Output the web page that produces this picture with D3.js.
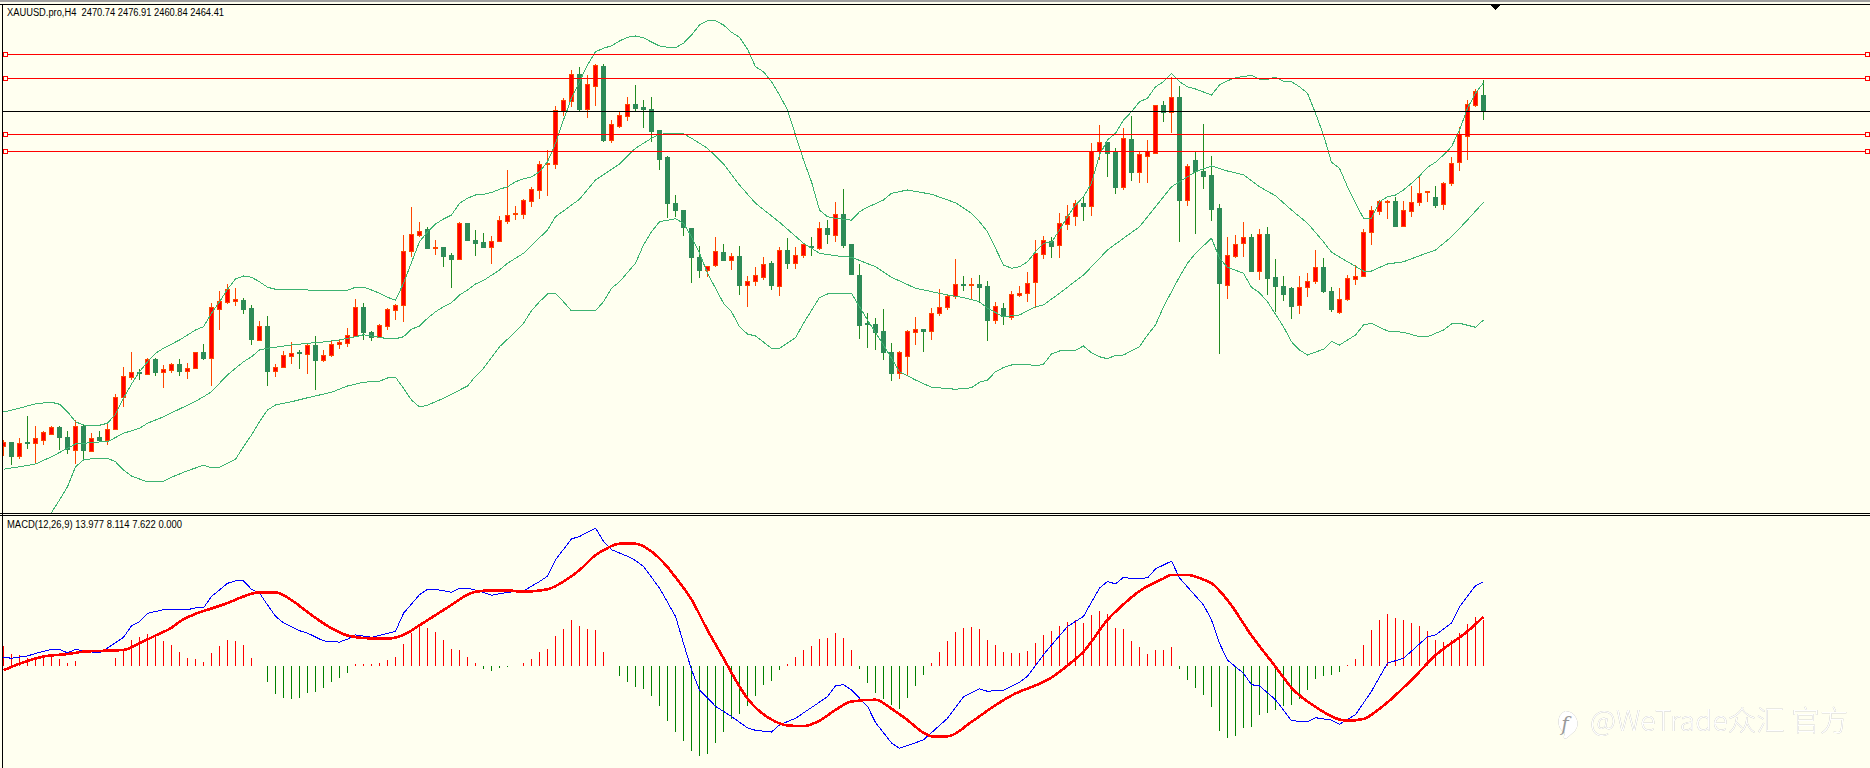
<!DOCTYPE html>
<html>
<head>
<meta charset="utf-8">
<title>XAUUSD.pro,H4</title>
<script src="https://cdn.jsdelivr.net/npm/d3@7/dist/d3.min.js"></script>
<style>
  html, body { margin: 0; padding: 0; background: #FFFFF0; overflow: hidden; }
  svg { display: block; }
  .label { font-family: "Liberation Sans", sans-serif; font-size: 10px; fill: #000; }
  .mark { font-family: "Noto Sans CJK SC", sans-serif; font-size: 28.5px; font-weight: 300; fill: #fff;
          filter: drop-shadow(0.8px 0.8px 0 #9a9a9a); }
</style>
</head>
<body>
<svg id="chart" width="1870" height="768"></svg>
<script>
// H4 candles, oldest first
const candleOpen = [
2330.3,2332.1,2326.3,2331.8,2331.5,2333.1,2335.5,2338.1,2334.1,2329.1,
2338.6,2328.7,2334.1,2333.0,2337.4,2350.1,2357.9,2360.1,2359.4,2365.3,
2360.3,2361.1,2363.3,2360.3,2361.5,2368.1,2365.5,2385.5,2388.3,2388.5,
2389.0,2385.7,2373.1,2378.5,2360.3,2362.2,2366.7,2367.8,2367.5,2370.9,
2365.1,2367.1,2371.0,2371.7,2374.7,2386.1,2376.2,2374.2,2378.7,2385.1,
2386.9,2408.3,2415.0,2417.3,2409.8,2410.1,2406.9,2405.2,2419.7,2413.0,
2412.1,2410.1,2412.3,2420.3,2423.1,2423.5,2428.7,2433.1,2443.1,2443.5,
2464.6,2468.3,2479.3,2465.5,2474.7,2482.5,2453.1,2458.7,2462.7,2467.3,
2466.1,2465.3,2456.9,2446.1,2427.7,2424.9,2417.7,2406.1,2401.1,2403.1,
2408.1,2405.1,2406.5,2395.1,2396.3,2398.3,2403.4,2394.7,2408.9,2403.9,
2407.1,2410.5,2409.8,2417.7,2415.1,2423.3,2411.3,2398.9,2379.4,2379.3,
2376.5,2368.1,2359.5,2366.7,2376.3,2377.3,2376.7,2383.5,2385.9,2390.5,
2395.3,2395.0,2395.3,2394.5,2381.1,2385.7,2382.1,2391.0,2391.5,2395.9,
2407.5,2412.5,2410.7,2419.4,2422.3,2427.7,2426.7,2448.5,2452.1,2447.8,
2433.9,2453.3,2440.3,2446.3,2447.8,2466.9,2463.9,2470.1,2429.1,2444.9,
2440.5,2438.9,2425.7,2395.1,2406.7,2411.5,2414.1,2400.7,2415.3,2398.1,
2394.5,2393.7,2386.9,2393.9,2396.7,2402.1,2392.5,2384.3,2389.1,2397.5,
2398.3,2416.1,2424.7,2428.1,2428.5,2418.7,2424.7,2427.9,2432.0,2430.1,
2427.1,2435.5,2443.7,2454.7,2467.1,2470.74];

const candleHigh = [
2333.0,2332.1,2333.8,2342.6,2338.6,2336.5,2338.6,2338.6,2336.5,2340.9,
2339.3,2335.8,2336.5,2339.7,2351.3,2362.2,2368.2,2361.3,2365.7,2365.7,
2362.9,2363.8,2365.4,2363.8,2368.2,2371.4,2387.8,2392.5,2395.4,2393.8,
2389.8,2386.9,2380.6,2382.6,2363.4,2368.6,2372.2,2369.0,2371.4,2374.6,
2369.0,2373.0,2373.4,2377.8,2389.4,2387.8,2376.6,2379.4,2385.8,2387.4,
2415.0,2426.2,2420.2,2418.1,2413.0,2410.1,2407.7,2420.1,2419.7,2417.0,
2415.8,2414.6,2422.6,2441.0,2426.6,2429.5,2434.2,2444.6,2449.0,2466.6,
2469.8,2481.0,2482.2,2479.0,2483.4,2483.4,2461.0,2464.6,2470.2,2475.0,
2469.0,2470.2,2457.0,2446.5,2431.0,2425.0,2417.9,2410.6,2402.6,2414.2,
2411.4,2407.7,2410.6,2398.6,2402.2,2406.2,2404.6,2410.2,2413.8,2410.2,
2411.8,2414.2,2420.2,2421.0,2428.2,2433.4,2411.4,2403.4,2383.8,2381.8,
2385.4,2371.8,2368.6,2377.0,2382.2,2377.3,2385.8,2393.4,2391.3,2405.4,
2398.6,2397.8,2399.0,2396.6,2388.2,2387.8,2392.6,2394.6,2400.2,2413.0,
2414.6,2414.2,2423.8,2427.0,2429.0,2430.6,2451.8,2459.0,2452.1,2449.8,
2457.8,2462.6,2448.2,2453.0,2467.0,2468.6,2478.1,2474.6,2443.4,2448.2,
2459.4,2446.6,2427.4,2414.2,2415.0,2420.2,2415.4,2417.4,2418.2,2405.4,
2398.6,2394.2,2398.6,2399.8,2409.0,2405.8,2394.2,2393.8,2399.0,2403.0,
2417.4,2426.6,2429.0,2428.9,2430.2,2428.6,2434.6,2438.2,2432.6,2434.6,
2436.2,2446.2,2458.2,2469.0,2473.4,2476.91];

const candleLow = [
2326.6,2323.0,2325.5,2329.5,2323.4,2331.0,2335.1,2329.0,2327.4,2323.4,
2325.4,2328.6,2332.5,2331.0,2337.0,2346.2,2357.0,2357.0,2359.0,2358.6,
2353.8,2359.8,2358.6,2357.4,2361.4,2365.0,2354.6,2377.0,2387.4,2386.6,
2383.4,2371.0,2372.6,2354.6,2358.2,2361.8,2363.4,2361.4,2359.3,2353.0,
2364.2,2366.2,2369.4,2370.2,2374.2,2373.0,2372.6,2373.9,2377.0,2381.0,
2380.2,2406.3,2414.3,2409.3,2407.0,2402.3,2393.9,2405.0,2412.6,2406.6,
2409.7,2403.4,2412.3,2419.5,2421.0,2421.5,2426.3,2429.5,2430.7,2441.4,
2462.6,2466.3,2464.1,2461.9,2466.6,2452.3,2451.9,2457.9,2460.7,2464.5,
2457.8,2452.3,2441.0,2421.8,2422.2,2414.7,2395.9,2397.8,2398.3,2402.2,
2404.6,2401.0,2391.0,2386.3,2394.6,2397.0,2393.0,2390.6,2401.4,2401.4,
2405.8,2406.6,2409.0,2411.4,2412.2,2409.8,2399.0,2373.4,2369.8,2369.0,
2365.0,2356.6,2357.4,2359.0,2371.0,2368.2,2373.0,2382.6,2385.0,2389.4,
2392.6,2389.4,2387.7,2372.7,2379.4,2379.0,2381.0,2390.2,2388.2,2385.8,
2405.4,2405.8,2405.8,2417.0,2418.6,2420.6,2422.6,2445.0,2438.2,2431.4,
2433.0,2436.6,2435.8,2435.8,2447.4,2460.2,2455.8,2412.2,2426.6,2415.4,
2433.4,2420.6,2367.4,2389.4,2405.8,2406.2,2400.2,2397.0,2391.0,2384.2,
2388.6,2381.4,2383.4,2390.2,2395.4,2391.8,2384.2,2383.4,2388.6,2395.0,
2398.2,2411.0,2423.0,2421.4,2418.6,2418.2,2422.2,2426.6,2428.2,2425.8,
2425.0,2434.6,2440.6,2445.0,2466.2,2460.84];

const candleClose = [
2332.1,2326.3,2331.7,2331.5,2333.7,2336.1,2338.2,2333.9,2329.3,2338.5,
2329.1,2333.7,2333.0,2337.3,2350.1,2358.5,2360.1,2359.7,2365.3,2360.3,
2361.3,2363.3,2360.6,2361.7,2368.1,2365.5,2386.1,2388.5,2393.3,2389.3,
2385.5,2373.1,2378.5,2360.7,2362.1,2366.9,2367.7,2367.5,2370.9,2365.1,
2366.9,2371.3,2371.8,2374.9,2386.1,2375.9,2374.1,2378.9,2385.3,2386.9,
2408.6,2415.3,2416.5,2409.9,2410.0,2406.7,2405.2,2419.7,2413.0,2411.9,
2409.9,2412.5,2420.9,2422.9,2423.7,2428.9,2433.3,2443.3,2443.7,2464.9,
2468.9,2479.3,2465.5,2475.3,2482.9,2453.1,2459.3,2462.9,2467.3,2465.8,
2465.1,2456.7,2445.5,2427.5,2424.7,2417.9,2405.9,2401.1,2402.5,2408.5,
2405.1,2406.5,2395.1,2396.5,2398.9,2403.3,2394.7,2408.9,2403.8,2406.9,
2411.3,2409.9,2417.7,2415.1,2423.3,2411.0,2399.4,2379.1,2379.0,2376.2,
2367.9,2359.5,2368.1,2376.5,2377.3,2376.7,2383.7,2386.1,2390.5,2395.3,
2395.0,2395.3,2394.3,2381.1,2386.5,2382.3,2391.3,2391.7,2395.7,2407.7,
2412.9,2410.7,2419.7,2422.6,2427.7,2426.7,2448.5,2452.1,2447.5,2433.9,
2453.7,2440.3,2447.3,2448.3,2466.9,2463.9,2470.1,2429.1,2442.5,2440.3,
2438.7,2425.5,2395.5,2406.9,2411.3,2414.1,2400.7,2415.3,2397.9,2394.3,
2391.5,2386.7,2394.1,2396.5,2402.1,2392.3,2385.5,2389.3,2397.7,2398.5,
2416.1,2424.9,2428.5,2428.6,2418.7,2424.9,2428.1,2431.7,2432.4,2427.1,
2435.7,2443.7,2455.0,2467.3,2472.5,2464.41];

// Bollinger bands as [bar, price]
const bandUpper = [[0,2344.2],[2,2345.7],[4,2347.5],[6,2348.1],[7,2347.3],[8,2344.3],[9,2340.3],[10,2339],[12,2338.9],[13,2339.7],
[14,2343.3],[15,2349.7],[16,2355.4],[17,2360.3],[18,2364.3],[19,2367.7],[20,2369.7],[22,2373],[24,2377],[25,2378.3],
[26,2383.7],[27,2388.3],[28,2393.3],[29,2397.4],[30,2398.6],[31,2398.1],[32,2396.3],[33,2394.1],[34,2393.3],[35,2393.3],
[39,2392.9],[43,2392.9],[44,2394.1],[45,2394.1],[46,2393],[47,2391.7],[48,2390.1],[49,2388.9],[50,2395.7],[51,2404],
[52,2412.3],[53,2416.3],[54,2419.4],[55,2421.4],[56,2423],[57,2427.7],[58,2429.7],[59,2431],[60,2431.3],[61,2432],
[62,2433.3],[63,2434.3],[64,2436.3],[65,2437.5],[66,2438.2],[67,2440.3],[68,2444.3],[69,2451.7],[70,2461],[71,2469.7],
[72,2476.3],[73,2483],[74,2488.3],[75,2489.7],[76,2490.7],[77,2492.6],[78,2494.1],[79,2494.6],[80,2493.9],[81,2492.2],
[82,2490.6],[83,2490.1],[84,2489.9],[85,2491.7],[86,2495],[87,2499],[88,2500.7],[89,2500.7],[90,2499],[91,2496.1],
[92,2494.1],[93,2489.3],[94,2482.3],[95,2480.3],[96,2476.3],[97,2471],[98,2465],[99,2455],[100,2445],[101,2436.3],
[102,2425],[103,2422.3],[104,2421.7],[106,2420.9],[107,2424.3],[108,2426.1],[110,2429],[111,2431.7],[113,2433],[116,2431.3],
[119,2427.9],[121,2423.7],[122,2420.3],[123,2416.3],[124,2409.7],[125,2403],[126,2401.7],[127,2402.3],[128,2404.3],[129,2408.3],
[130,2411.7],[131,2412.1],[132,2417],[133,2422.3],[134,2427],[135,2430.3],[136,2435.7],[137,2447],[138,2453],[139,2455.7],
[140,2461],[141,2464.3],[142,2468.3],[143,2469.7],[144,2474.3],[145,2476.3],[146,2479.7],[147,2476.3],[148,2474.3],[149,2473.4],
[151,2471],[152,2475],[153,2476.7],[154,2477.9],[156,2478.9],[157,2477.3],[158,2477.3],[159,2478.1],[160,2476.5],[161,2476.3],
[162,2474.3],[163,2471.7],[164,2463.7],[165,2455],[166,2444.1],[167,2441.7],[168,2434.3],[169,2427.7],[170,2421.7],[171,2421.7],
[172,2428.3],[173,2430.3],[174,2431],[175,2433],[176,2435.7],[177,2438.6],[178,2442.1],[179,2444.1],[180,2447],[181,2450.3],
[182,2457],[183,2465.7],[184,2471.7],[185,2475.9]];

const bandMiddle = [[0,2321.3],[2,2322.3],[4,2323.4],[6,2326.3],[8,2329.7],[9,2331.4],[12,2332.2],[13,2332.3],[14,2334],[15,2335.7],
[17,2337.7],[18,2339.7],[20,2342.3],[22,2345.4],[24,2348.5],[25,2350.3],[26,2352.3],[27,2355.7],[28,2359],[29,2361.7],
[30,2364.3],[31,2366.3],[32,2369],[33,2369.7],[34,2370.1],[36,2371],[38,2371.7],[40,2372.2],[42,2373],[44,2374.3],
[45,2375.1],[46,2374.6],[47,2374.1],[48,2373.5],[49,2373.5],[50,2374.3],[51,2377.3],[52,2378.6],[53,2381.7],[54,2384.3],
[55,2386.3],[56,2387.9],[57,2391],[58,2393],[59,2395.4],[60,2396.8],[62,2401],[63,2403.7],[65,2407.7],[68,2417],
[69,2422.3],[72,2429.3],[74,2437],[77,2443.4],[79,2449.7],[81,2453.7],[82,2455.3],[83,2455.5],[85,2455.5],[86,2453.7],
[88,2449.7],[90,2443.4],[92,2435],[94,2427.7],[97,2420.1],[100,2411.7],[102,2407.7],[104,2406.7],[106,2406.1],[109,2402.3],
[111,2398.1],[114,2393.7],[118,2391],[120,2390],[122,2388.3],[123,2385.7],[125,2382.3],[127,2383],[129,2386.3],[130,2387],
[132,2391.7],[135,2399],[136,2402.3],[138,2409],[140,2413.7],[142,2418.3],[144,2426.3],[146,2434.3],[147,2436.3],[149,2440.3],
[151,2442.6],[153,2440.6],[155,2439.1],[157,2434.3],[159,2430.7],[161,2425],[163,2419.7],[165,2412.3],[166,2408.1],[168,2404.3],
[170,2400.6],[171,2400.6],[173,2403.4],[175,2404.3],[177,2406.7],[179,2409],[181,2414.3],[183,2421],[185,2428.1]];

const bandLower = [[4,2293],[6,2304],[7,2309],[8,2314.3],[9,2322.3],[10,2325],[11,2325.5],[13,2325.7],[14,2324.3],[15,2321],
[16,2318.6],[18,2316.2],[20,2316.5],[21,2318.1],[23,2320.7],[25,2322.9],[26,2321.8],[27,2322.1],[29,2325.3],[30,2330.3],
[31,2335],[32,2340.3],[33,2345],[34,2347],[36,2348.3],[38,2349.9],[41,2352.1],[43,2354.6],[45,2356.1],[47,2356.5],
[48,2357.8],[49,2358.1],[50,2353.7],[51,2349],[52,2346.2],[53,2346.9],[55,2349.7],[58,2354.6],[59,2358.5],[60,2361.7],
[62,2370.3],[64,2376.3],[65,2379.7],[66,2384.7],[67,2388.3],[68,2391.4],[69,2391.7],[70,2388.3],[71,2384.6],[74,2384.7],
[75,2388.3],[76,2393.7],[77,2396.3],[79,2403.7],[80,2411],[81,2416.3],[82,2420.3],[84,2421.5],[85,2419.7],[86,2414.3],
[87,2407.7],[88,2399.7],[90,2387.7],[91,2384.3],[92,2378.3],[93,2375.4],[94,2374.6],[96,2369.7],[97,2369.7],[99,2373.9],
[100,2379.7],[102,2390],[103,2391.4],[106,2391.7],[107,2386.3],[108,2381],[110,2371],[112,2360.3],[114,2357],[116,2354.1],
[119,2353.3],[121,2353.9],[122,2356.1],[123,2357],[124,2360.3],[125,2362],[126,2363],[128,2363.3],[129,2362.6],[130,2363.3],
[131,2367.4],[132,2368.6],[134,2368.9],[135,2370.6],[136,2367.9],[137,2366.3],[138,2365.5],[139,2366.9],[140,2367],[142,2370.3],
[143,2375],[144,2379],[145,2386.3],[147,2398.3],[148,2403.7],[149,2407.7],[151,2413.7],[152,2405.7],[153,2402.1],[155,2399.7],
[156,2394.1],[157,2391.9],[158,2388.3],[160,2378.3],[161,2372.3],[162,2369],[163,2367],[165,2369.3],[166,2372.5],[167,2371],
[169,2375],[170,2379],[171,2379.7],[173,2376.6],[175,2376.1],[177,2374.3],[178,2374.3],[180,2377],[181,2379.4],[182,2379.7],
[184,2378.1],[185,2381]];

// Horizontal levels and the last close
const levelPrices = [2487.2, 2477.6, 2455.2, 2448.4];
const lastClose = 2464.41;

// MACD histogram, one value per candle
const macdHist = [
3.2,1.9,1.8,1.3,1.4,1.5,1.4,1.1,0.5,0.8,
0,0,-0.1,0,1.3,2.6,4.3,4.8,5.3,4.8,
4.1,3.4,2.3,1.3,1.1,0.6,2.1,3.3,4.3,4.1,
3.4,1.3,0,-2.7,-4.7,-5.4,-5.6,-5.4,-4.6,-4.4,
-3.7,-2.7,-2.1,-1.2,0.3,0.3,0.2,0.4,0.9,1.4,
3.6,5.4,6.6,6.3,5.6,4.3,2.8,2.6,1.4,0.4,
-0.5,-0.9,-0.4,-0.2,0,0.4,1.1,2.3,2.8,4.9,
6.1,7.6,6.6,6.1,5.9,2.3,-0.1,-1.8,-2.7,-3.5,
-3.9,-5.1,-6.8,-9.2,-11.1,-12.6,-14.2,-15.1,-14.7,-12.9,
-11.1,-8.9,-8.1,-6.7,-5.1,-3.2,-2.6,-0.7,0.3,1.4,
2.6,3.3,4.4,4.6,5.4,4.6,2.6,-0.6,-2.9,-4.6,
-5.6,-6.6,-7.2,-5.4,-3.4,-1.6,0.4,2.3,4.1,5.6,
6.3,6.4,6.1,4.3,3.4,2.3,2.1,2.1,2.4,3.8,
5.1,5.8,6.6,7.3,7.6,7.1,8.4,9.1,8.6,6.3,
6.1,4.1,3.1,1.9,2.6,2.6,3.1,-0.6,-2.4,-3.7,
-4.9,-6.9,-10.9,-12.1,-11.7,-10.4,-10.2,-8.2,-7.9,-7.4,
-6.7,-6.6,-5.6,-4.1,-2.2,-1.7,-1.6,-1.1,0.1,1.1,
3.4,5.9,7.6,8.6,7.9,7.6,7.1,6.6,5.8,4.3,
3.9,4.3,5.4,6.9,8.1,7.622];

// MACD line as [bar, value]
const macdMain = [[0,1.4],[1,1.2],[3,1.6],[4,2],[6,2.7],[7,2.7],[8,2.1],[9,2.7],[10,2.4],[12,2.1],[13,2.9],[15,4.7],[16,6.6],[17,7.3],[18,8.7],
[20,9.3],[23,9.3],[24,9.6],[25,9.6],[26,11.5],[28,13.7],[29,14.1],[30,14.1],[31,12.7],[32,12.1],[33,10.1],[34,8.2],[35,7.1],[37,5.8],[38,5.4],
[40,4.1],[42,3.9],[43,4.4],[44,5.1],[45,4.9],[46,4.7],[49,5.7],[50,8.7],[52,11.8],[53,12.7],[54,12.7],[56,12.2],[57,12.9],[58,12.9],[60,12.2],
[61,11.7],[63,12.2],[65,12.4],[67,14],[68,14.9],[69,17.6],[71,21.1],[72,21.5],[74,22.9],[75,20.7],[76,19.3],[78,18.2],[79,17.5],[80,16.5],[82,12.9],
[84,8.2],[85,3.7],[86,-0.7],[87,-4.1],[88,-5.4],[89,-6.8],[91,-8.5],[93,-10.4],[94,-10.8],[96,-11.1],[97,-9.9],[99,-8.8],[101,-7],[103,-5.2],[104,-3.4],
[105,-3.2],[106,-4.1],[108,-6.8],[109,-9.5],[111,-12.9],[112,-13.8],[115,-12.4],[118,-8.8],[120,-5.2],[122,-3.9],[123,-4.3],[125,-4.1],[127,-2.8],[128,-1.8],[130,1.8],
[131,3.4],[133,6.5],[135,8.2],[137,12.9],[138,14],[139,13.6],[140,14.7],[141,14.5],[143,14.6],[144,16.1],[146,17.4],[147,14.6],[150,10.1],[151,7.6],[152,3.7],
[153,0.9],[155,-1.3],[156,-3.2],[157,-3.4],[159,-5.7],[161,-9.2],[163,-9.4],[164,-8.7],[166,-9.1],[167,-9.8],[169,-8.2],[171,-4.3],[173,0.4],[175,1.2],[178,4.8],
[179,5.1],[181,7.1],[182,9.8],[184,13.3],[185,13.977]];

// Signal line as [bar, value]
const macdSignal = [[0,-0.8],[2,0.3],[5,1.5],[8,1.9],[10,2.3],[15,2.6],[17,3.7],[19,5],[21,6.3],[22,7.3],[24,8.6],[26,9.5],[28,10.4],[30,11.5],[32,12.2],
[34,12.2],[36,10.9],[38,8.9],[41,6.2],[43,5],[46,4.5],[48,4.5],[50,5.1],[52,6.7],[54,8.4],[56,10.1],[58,11.8],[59,12.3],[61,12.5],[63,12.5],
[65,12.3],[68,12.7],[70,14],[72,15.9],[74,18.4],[75,19.2],[77,20.3],[79,20.3],[81,19],[83,16.4],[84,14.7],[86,11],[88,5.9],[90,1.2],[92,-3.5],
[93,-5.5],[94,-7],[96,-9],[98,-10],[100,-10.1],[102,-9.2],[104,-7.4],[106,-6],[109,-5.7],[111,-7.2],[113,-9.1],[115,-11.2],[116,-11.8],[118,-11.8],[121,-9.4],
[124,-6.6],[126,-5],[131,-2],[133,0],[135,2.3],[138,7.6],[140,10.2],[142,12.4],[145,14.5],[146,15.1],[148,15.1],[150,14.3],[151,13.7],[153,10.9],[156,5],
[159,-0.2],[161,-3.7],[164,-6.9],[168,-9.2],[170,-8.9],[172,-7.2],[176,-2.4],[179,1.7],[183,5.7],[185,8.114]];

const priceLegend = "XAUUSD.pro,H4  2470.74 2476.91 2460.84 2464.41";
const macdLegend = "MACD(12,26,9) 13.977 8.114 7.622 0.000";
const brandText = "@WeTrade众汇 官方";

const svg = d3.select("#chart");
const W = 1870, H = 768;
const bars = d3.range(candleOpen.length);

const x = d3.scaleLinear().domain([0, 185]).range([3.5, 1483.5]);
const yPrice = d3.scaleLinear().domain([2509, 2305]).range([0, 510]);
const yMacd = d3.scaleLinear().domain([0, 20]).range([665.5, 545.5]);
const snap = v => Math.round(v - 0.5) + 0.5;

svg.append("rect").attr("width", W).attr("height", H).attr("fill", "#FFFFF0");

const defs = svg.append("defs");
defs.append("clipPath").attr("id", "priceClip").append("rect")
  .attr("x", 3).attr("y", 5).attr("width", W - 3).attr("height", 508);
defs.append("clipPath").attr("id", "macdClip").append("rect")
  .attr("x", 3).attr("y", 516).attr("width", W - 3).attr("height", H - 516);

// Window frame
const crisp = g => g.attr("shape-rendering", "crispEdges");
svg.append("rect").attr("width", W).attr("height", 2).attr("fill", "#a0a0a0").call(crisp);
[[2.5, 4, 2.5, H], [0, 4.5, W, 4.5], [0, 513.5, W, 513.5], [0, 515.5, W, 515.5]].forEach(p => {
  svg.append("line").attr("x1", p[0]).attr("y1", p[1]).attr("x2", p[2]).attr("y2", p[3])
    .attr("stroke", "#000").attr("stroke-width", 1).call(crisp);
});

// Price pane
const price = svg.append("g").attr("clip-path", "url(#priceClip)");

const levels = svg.append("g");
levels.selectAll("line.level").data(levelPrices).join("line")
  .attr("class", "level")
  .attr("x1", 3).attr("x2", W)
  .attr("y1", d => snap(yPrice(d))).attr("y2", d => snap(yPrice(d)))
  .attr("stroke", "#FF0000").call(crisp);
levels.append("line")
  .attr("x1", 3).attr("x2", W)
  .attr("y1", snap(yPrice(lastClose))).attr("y2", snap(yPrice(lastClose)))
  .attr("stroke", "#000").call(crisp);
[3.5, 1865.5].forEach(hx => {
  levels.selectAll(null).data(levelPrices).join("rect")
    .attr("x", hx).attr("y", d => snap(yPrice(d)) - 2)
    .attr("width", 4).attr("height", 4)
    .attr("fill", "#FFFFF0").attr("stroke", "#FF0000").call(crisp);
});

const up = i => candleClose[i] >= candleOpen[i];

price.append("g").selectAll("line").data(bars).join("line")
  .attr("x1", i => x(i)).attr("x2", i => x(i))
  .attr("y1", i => Math.round(yPrice(candleHigh[i])))
  .attr("y2", i => Math.round(yPrice(candleLow[i])))
  .attr("stroke", i => up(i) ? "#FF4500" : "#228B22").call(crisp);

price.append("g").selectAll("rect").data(bars).join("rect")
  .attr("x", i => x(i) - 2).attr("width", 4)
  .attr("y", i => snap(yPrice(Math.max(candleOpen[i], candleClose[i]))))
  .attr("height", i => Math.max(1, Math.round(Math.abs(yPrice(candleOpen[i]) - yPrice(candleClose[i])))))
  .attr("fill", i => up(i) ? "#FF0000" : "#2E8B57")
  .attr("stroke", i => up(i) ? "#FF4500" : "#2E8B57").call(crisp);

const bandLine = d3.line().x(d => x(d[0])).y(d => yPrice(d[1]));
[bandUpper, bandMiddle, bandLower].forEach(series => {
  price.append("path").attr("d", bandLine(series))
    .attr("fill", "none").attr("stroke", "#3CB371").attr("stroke-width", 1).call(crisp);
});

// Shift marker on the top edge
svg.append("path")
  .attr("d", d3.line()([[1490.5, 5], [1500.5, 5], [1495.5, 10]]) + "Z")
  .attr("fill", "#000").call(crisp);

// MACD pane
const macd = svg.append("g").attr("clip-path", "url(#macdClip)");
macd.append("g").selectAll("line").data(bars.filter(i => macdHist[i] !== 0)).join("line")
  .attr("x1", i => x(i)).attr("x2", i => x(i))
  .attr("y1", yMacd(0))
  .attr("y2", i => yMacd(macdHist[i]))
  .attr("stroke", i => macdHist[i] > 0 ? "#FF0000" : "#008000").call(crisp);

const macdLine = d3.line().x(d => x(d[0])).y(d => yMacd(d[1]));
const signalLine = d3.line().curve(d3.curveMonotoneX).x(d => x(d[0])).y(d => yMacd(d[1]));
macd.append("path").attr("d", macdLine(macdMain))
  .attr("fill", "none").attr("stroke", "#0000FF").attr("stroke-width", 1).call(crisp);
macd.append("path").attr("d", signalLine(macdSignal))
  .attr("fill", "none").attr("stroke", "#FF0000").attr("stroke-width", 2.6).call(crisp);

// Pane legends
svg.append("text").attr("class", "label").attr("x", 7).attr("y", 16)
  .attr("textLength", 217).attr("lengthAdjust", "spacingAndGlyphs")
  .style("white-space", "pre").text(priceLegend);
svg.append("text").attr("class", "label").attr("x", 7).attr("y", 528)
  .attr("textLength", 175).attr("lengthAdjust", "spacingAndGlyphs")
  .text(macdLegend);

// Embossed brand mark
const brand = svg.append("g").attr("class", "mark");
brand.append("path")
  .attr("d", "M1565 711a12.5 12.5 0 0 1 10 20l-8 7q-4 2-3-2l1-3a12.5 12.5 0 0 1 0-22z");
brand.append("text").attr("x", 1590).attr("y", 731).text(brandText);
svg.append("text").attr("x", 1565).attr("y", 731)
  .attr("text-anchor", "middle").attr("font-family", "DejaVu Serif").attr("font-style", "italic")
  .attr("font-size", 20).attr("fill", "#9a9a9a").text("f");
</script>
</body>
</html>
